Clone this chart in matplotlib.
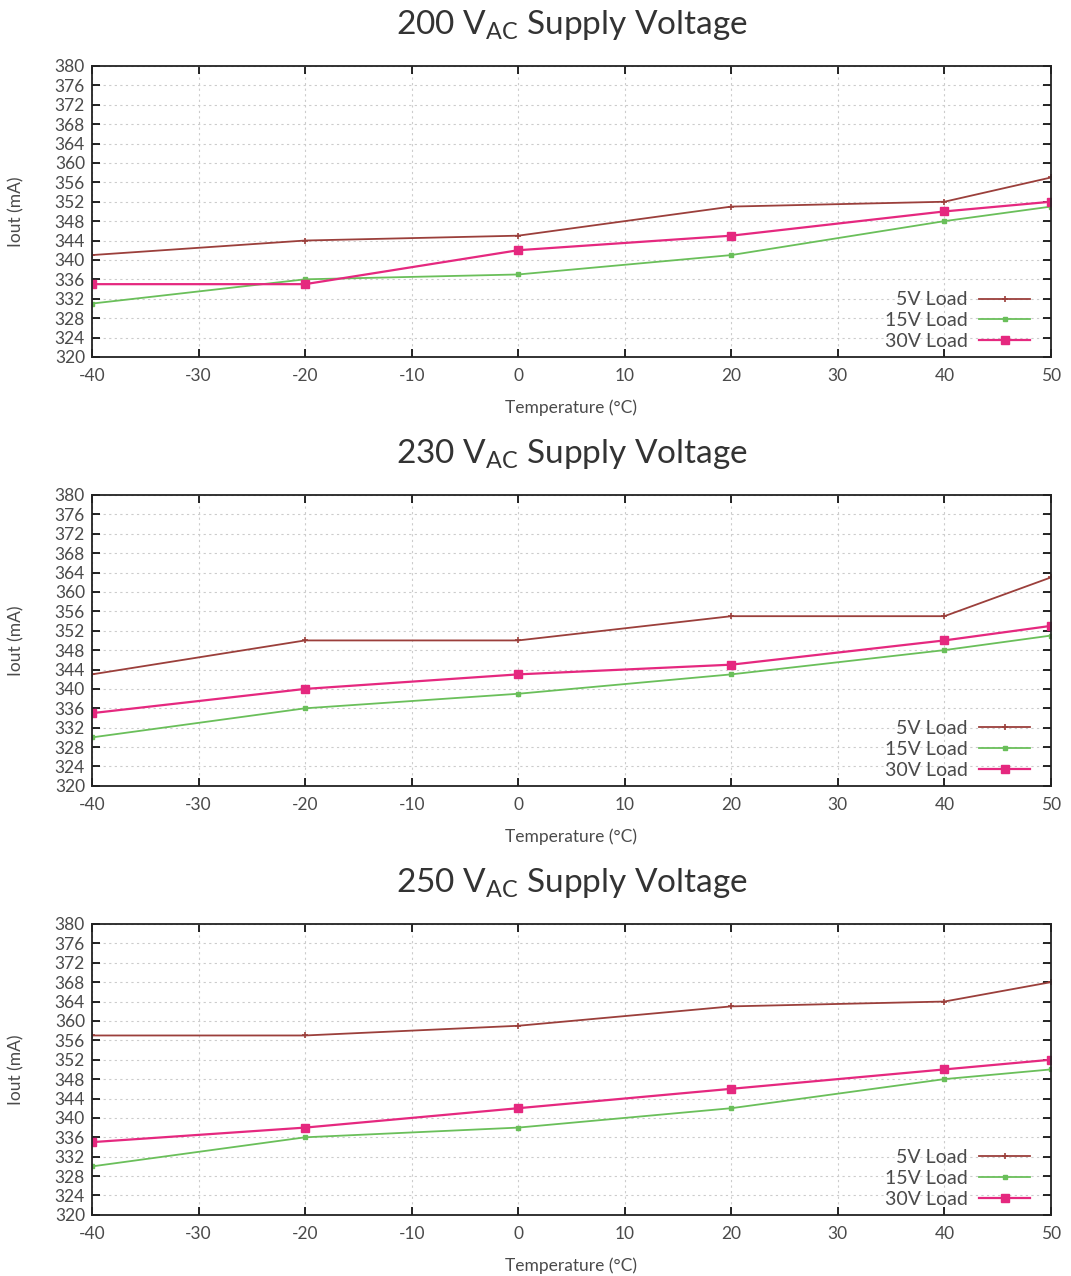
from matplotlib import pyplot as plt
import numpy as np

plt.rcParams['font.family'] = ['Lato', 'DejaVu Sans']
plt.rcParams['mathtext.fontset'] = 'custom'
plt.rcParams['mathtext.rm'] = 'Lato'
plt.rcParams['mathtext.it'] = 'Lato:italic'
plt.rcParams['mathtext.bf'] = 'Lato:bold'
plt.rcParams['axes.unicode_minus'] = False

temps = [-40, -20, 0, 20, 40, 50]
supplies = ['200', '230', '250']

load5 = [
    [341, 344, 345, 351, 352, 357],
    [343, 350, 350, 355, 355, 363],
    [357, 357, 359, 363, 364, 368],
]
load15 = [
    [331, 336, 337, 341, 348, 351],
    [330, 336, 339, 343, 348, 351],
    [330, 336, 338, 342, 348, 350],
]
load30 = [
    [335, 335, 342, 345, 350, 352],
    [335, 340, 343, 345, 350, 353],
    [335, 338, 342, 346, 350, 352],
]

txt = '#4a4a4a'
fig = plt.figure(figsize=(10.71, 12.76), dpi=100)
tops = [0.9483, 0.6121, 0.2759]
h = 0.2280

for k in range(3):
    ax = fig.add_axes([0.0859, tops[k] - h, 0.8954, h])
    ax.plot(temps, load5[k], color='#9b3f3b', lw=1.3, marker='+', ms=5, mew=1.2, label='5V Load')
    ax.plot(temps, load15[k], color='#6abf5a', lw=1.3, marker='s', ms=3.5, label='15V Load')
    ax.plot(temps, load30[k], color='#e5287f', lw=1.6, marker='s', ms=6, label='30V Load')
    ax.set_xlim(-40, 50)
    ax.set_ylim(320, 380)
    ax.set_xticks(np.arange(-40, 51, 10))
    ax.set_yticks(np.arange(320, 381, 4))
    ax.grid(True, color='#cccccc', ls=(0, (2, 3)), lw=0.8)
    ax.tick_params(direction='in', top=True, right=True, length=6, width=1.2,
                   labelsize=12.5, labelcolor=txt)
    ax.tick_params(axis='x', pad=8)
    ax.tick_params(axis='y', pad=5)
    for s in ax.spines.values():
        s.set_linewidth(1.3)
        s.set_color('#222222')
    ax.set_xlabel('Temperature (°C)', fontsize=12.5, color=txt, labelpad=11)
    ax.set_ylabel('Iout (mA)', fontsize=12.5, color=txt, labelpad=22)
    ax.set_title(supplies[k] + r' V$_{\mathrm{AC}}$ Supply Voltage', fontsize=24,
                 color='#333333', pad=23)
    ax.legend(loc='lower right', bbox_to_anchor=(0.985, 0), frameon=False,
              markerfirst=False, fontsize=14, handlelength=2.6, handletextpad=0.6,
              labelspacing=0.2, borderaxespad=0.1, borderpad=0.25, labelcolor=txt)

fig.savefig('out.png', dpi=100)
